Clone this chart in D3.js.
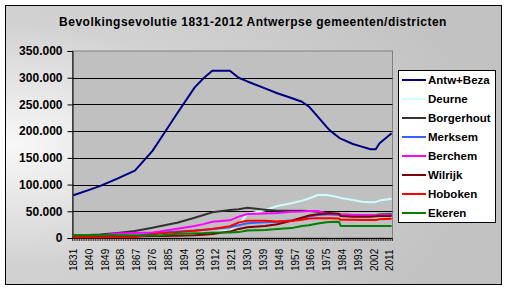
<!DOCTYPE html>
<html>
<head>
<meta charset="utf-8">
<script src="https://cdn.jsdelivr.net/npm/d3@7"></script>
<style>
html,body{margin:0;padding:0;background:#fff;}
svg{display:block;font-family:"Liberation Sans",Arial,sans-serif;}
</style>
</head>
<body>
<svg id="chart" width="508" height="290"></svg>
<script>
// ---- data ----
const title = "Bevolkingsevolutie 1831-2012 Antwerpse gemeenten/districten";
const firstYear = 1831, lastYear = 2012;
const tickYears = [1831,1840,1849,1858,1867,1876,1885,1894,1903,1912,1921,1930,1939,1948,1957,1966,1975,1984,1993,2002,2011];
const yTicks = [0,50000,100000,150000,200000,250000,300000,350000];
const years = [1831,1840,1846,1856,1866,1876,1880,1890,1900,1905,1910,1920,1925,1930,1940,1947,1955,1961,1965,1970,1975,1977,1982,1983,1990,1995,2000,2003,2005,2012];
const seriesNames = ["Antw+Beza","Deurne","Borgerhout","Merksem","Berchem","Wilrijk","Hoboken","Ekeren"];
const seriesColors = ["#000080","#CCFFFF","#333333","#3366FF","#FF00FF","#800000","#FF0000","#008000"];
const antw = [80000,90000,97000,111000,126000,163000,183000,233000,282000,299000,313000,313000,300000,293000,280000,271000,262000,255000,246000,227000,208000,201000,188000,186000,176000,171000,166000,166000,177000,196000];
const deurne = [3000,3200,3500,4000,4500,5000,5500,7000,9000,10000,11000,14000,25000,45000,52000,60000,65000,70000,74000,80500,80500,79500,76000,75000,71000,68000,67000,67500,70000,73500];
const borgerhout = [5000,5500,6500,9500,13000,19000,22000,28500,38000,43000,48000,52500,54000,56500,53000,51000,51000,51000,50500,49000,47000,46000,45000,44000,43000,42000,42000,42500,44000,45000];
const merksem = [2500,2700,2900,3200,3500,9000,10000,12000,14000,15500,17000,20000,24000,27500,29500,30500,33000,38000,40000,43000,44000,44000,43000,42000,41000,40500,41000,41500,42000,44000];
const berchem = [3000,3500,4000,8500,9500,10500,12000,17500,22500,26000,30500,33000,40000,45000,46000,47000,49000,49500,50500,50500,46000,45500,44500,44000,43000,42500,42000,42000,42500,43000];
const wilrijk = [2000,2200,2400,2800,3200,3600,3800,4400,5000,6000,7500,12000,17000,20000,22500,25600,32000,38000,42000,44500,46000,46500,45500,41000,40000,40000,40000,40500,41000,41000];
const hoboken = [1300,1300,1300,1300,1300,7000,8500,11000,13500,15000,17000,22000,29000,32400,32400,31000,32000,34000,36500,37000,37000,37000,36500,34000,34000,33700,33700,33700,35000,36000];
const ekeren = [5000,5000,5000,5000,5000,4500,4500,8000,9000,9500,10500,10500,11000,14000,15000,17000,18500,22500,24000,27000,29500,30000,30500,22500,22500,22500,22500,22500,22500,22500];
const seriesValues = [antw,deurne,borgerhout,merksem,berchem,wilrijk,hoboken,ekeren];

// ---- layout ----
const svg = d3.select("#chart");
const defs = svg.append("defs");
const rg = defs.append("radialGradient").attr("id","bg")
  .attr("cx","0.02").attr("cy","0.5").attr("r","0.95").attr("fx","0.02").attr("fy","0.5");
rg.append("stop").attr("offset","0").attr("stop-color","#f8f8f8");
rg.append("stop").attr("offset","0.45").attr("stop-color","#d2d2d2");
rg.append("stop").attr("offset","1").attr("stop-color","#c2c2c2");

svg.append("rect").attr("x",5.5).attr("y",5.5).attr("width",496).attr("height",279)
  .attr("fill","url(#bg)").attr("stroke","#000").attr("stroke-width",1);

svg.append("text").attr("x",253).attr("y",26).attr("text-anchor","middle")
  .attr("font-size",12).attr("font-weight","bold").attr("letter-spacing",0.5)
  .attr("fill","#000").text(title);

const plot = {left:72.5, right:392.5, top:51, bottom:238};

const x = d3.scaleBand().domain(d3.range(firstYear, lastYear+1)).range([plot.left, plot.right]);
const y = d3.scaleLinear().domain([0,350000]).range([plot.bottom, plot.top]);
const cx = yr => x(yr) + x.bandwidth()/2;

svg.append("rect").attr("x",plot.left).attr("y",plot.top)
  .attr("width",plot.right-plot.left).attr("height",plot.bottom-plot.top)
  .attr("fill","#C0C0C0").attr("stroke","#808080").attr("stroke-width",1);

// gridlines
svg.append("g").selectAll("line").data(yTicks.filter(t=>t>0 && t<350000)).join("line")
  .attr("x1",plot.left).attr("x2",plot.right)
  .attr("y1",d=>Math.round(y(d))+0.5).attr("y2",d=>Math.round(y(d))+0.5)
  .attr("stroke","#000").attr("stroke-width",1);

// y axis
const loc = d3.formatLocale({decimal:",",thousands:".",grouping:[3],currency:["",""]});
const fmt = loc.format(",d");
const yAxis = d3.axisLeft(y).tickValues(yTicks).tickFormat(fmt).tickSize(5).tickPadding(5);
const gy = svg.append("g").attr("transform",`translate(${plot.left},0)`).call(yAxis);
gy.select(".domain").attr("stroke","#000");
gy.selectAll(".tick line").attr("stroke","#000");
gy.selectAll("text").attr("font-size",12).attr("font-weight","bold").attr("fill","#000")
  .attr("font-family","Liberation Sans, Arial, sans-serif");

// x axis line + comb ticks
svg.append("line").attr("x1",plot.left).attr("x2",plot.right)
  .attr("y1",plot.bottom+0.5).attr("y2",plot.bottom+0.5).attr("stroke","#000");
const bounds = x.domain().map(d=>x(d)).concat([plot.right]);
svg.append("g").selectAll("line").data(bounds).join("line")
  .attr("x1",d=>d).attr("x2",d=>d).attr("y1",plot.bottom).attr("y2",plot.bottom+3)
  .attr("stroke","#000").attr("stroke-width",0.7);
svg.append("g").selectAll("text").data(tickYears).join("text")
  .attr("transform",d=>`translate(${cx(d)+3.6},271) rotate(-90)`)
  .attr("font-size",10).attr("fill","#000").text(d=>d);

// lines
const line = d3.line().defined(d=>d.v!=null).x(d=>cx(d.yr)).y(d=>y(d.v));
const gl = svg.append("g");
seriesValues.forEach((vals,i)=>{
  gl.append("path").datum(years.map((yr,j)=>({yr, v:vals[j]})))
    .attr("d",line).attr("fill","none").attr("stroke",seriesColors[i])
    .attr("stroke-width",2).attr("stroke-linejoin","round");
});

// legend
const lg = svg.append("g");
lg.append("rect").attr("x",398.5).attr("y",70.5).attr("width",97).attr("height",152)
  .attr("fill","#fff").attr("stroke","#000");
seriesNames.forEach((n,i)=>{
  const yy = 80 + i*19;
  lg.append("line").attr("x1",402).attr("x2",426).attr("y1",yy).attr("y2",yy)
    .attr("stroke",seriesColors[i]).attr("stroke-width",2);
  lg.append("text").attr("x",428).attr("y",yy+4).attr("font-size",11.5).attr("font-weight","bold")
    .attr("fill","#000").text(n);
});
</script>
</body>
</html>
